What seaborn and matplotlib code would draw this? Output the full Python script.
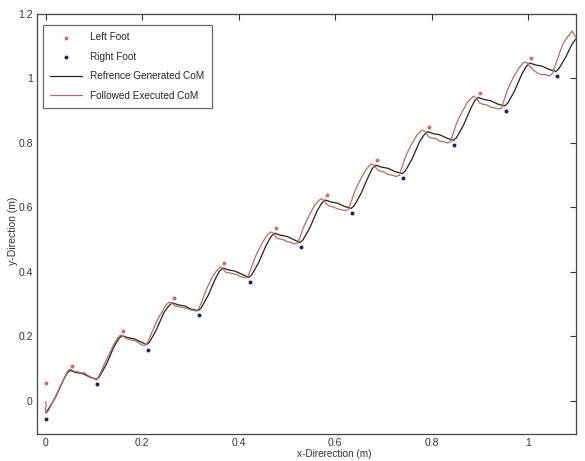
import matplotlib
matplotlib.use('Agg')
import matplotlib.pyplot as plt
import pandas as pd
import seaborn as sns

# footstep positions
left_x = [0.000, 0.054, 0.160, 0.265, 0.370, 0.477, 0.582, 0.687, 0.794, 0.899, 1.006]
left_y = [0.055, 0.109, 0.217, 0.319, 0.427, 0.535, 0.638, 0.746, 0.850, 0.956, 1.063]
right_x = [0.000, 0.107, 0.211, 0.318, 0.423, 0.529, 0.635, 0.741, 0.847, 0.953, 1.059]
right_y = [-0.057, 0.051, 0.159, 0.265, 0.368, 0.476, 0.582, 0.690, 0.793, 0.900, 1.007]

# reference CoM trajectory
ref_x = [0.000, 0.006, 0.020, 0.036, 0.044, 0.051, 0.063, 0.077, 0.091,
         0.105, 0.111, 0.125, 0.141, 0.151, 0.158, 0.170, 0.184, 0.198,
         0.209, 0.215, 0.229, 0.245, 0.255, 0.262, 0.274, 0.288, 0.302,
         0.316, 0.322, 0.336, 0.352, 0.360, 0.367, 0.379, 0.393, 0.407,
         0.421, 0.427, 0.441, 0.457, 0.467, 0.474, 0.486, 0.500, 0.514,
         0.527, 0.533, 0.547, 0.563, 0.572, 0.579, 0.591, 0.605, 0.619,
         0.633, 0.639, 0.653, 0.669, 0.677, 0.684, 0.696, 0.710, 0.724,
         0.739, 0.745, 0.759, 0.775, 0.784, 0.791, 0.803, 0.817, 0.831,
         0.845, 0.851, 0.865, 0.881, 0.889, 0.896, 0.908, 0.922, 0.936,
         0.951, 0.957, 0.971, 0.987, 0.996, 1.003, 1.015, 1.029, 1.043,
         1.057, 1.063, 1.077, 1.090, 1.098]
ref_y = [-0.037, -0.025, 0.010, 0.062, 0.085, 0.094, 0.088, 0.084, 0.074,
         0.066, 0.074, 0.111, 0.166, 0.192, 0.202, 0.196, 0.192, 0.182,
         0.174, 0.182, 0.219, 0.274, 0.294, 0.304, 0.298, 0.294, 0.284,
         0.280, 0.288, 0.325, 0.380, 0.402, 0.412, 0.406, 0.402, 0.392,
         0.383, 0.391, 0.428, 0.483, 0.510, 0.520, 0.514, 0.510, 0.500,
         0.491, 0.499, 0.536, 0.591, 0.613, 0.623, 0.617, 0.613, 0.603,
         0.597, 0.605, 0.642, 0.697, 0.721, 0.731, 0.725, 0.721, 0.711,
         0.705, 0.713, 0.750, 0.805, 0.825, 0.835, 0.829, 0.825, 0.815,
         0.808, 0.816, 0.853, 0.908, 0.931, 0.941, 0.935, 0.931, 0.921,
         0.915, 0.923, 0.960, 1.015, 1.038, 1.048, 1.042, 1.038, 1.028,
         1.022, 1.030, 1.065, 1.105, 1.122]

# executed CoM trajectory
exe_x = [0.000, 0.001, -0.001, 0.002, 0.006, 0.012, 0.020, 0.028, 0.036, 0.042,
         0.047, 0.053, 0.058, 0.066, 0.074, 0.080, 0.088, 0.096, 0.102,
         0.108, 0.114, 0.120, 0.126, 0.132, 0.138, 0.144, 0.150, 0.155, 0.161,
         0.168, 0.176, 0.184, 0.190, 0.196, 0.203,
         0.209, 0.214, 0.220, 0.226, 0.232, 0.238, 0.244, 0.250, 0.256, 0.262,
         0.268, 0.276, 0.284, 0.292, 0.300, 0.308, 0.313,
         0.317, 0.322, 0.328, 0.333, 0.339, 0.345, 0.351, 0.357, 0.362, 0.368,
         0.374, 0.381, 0.388, 0.396, 0.404, 0.412, 0.418,
         0.420, 0.425, 0.430, 0.436, 0.442, 0.448, 0.454, 0.460, 0.466, 0.472,
         0.478, 0.484, 0.492, 0.500, 0.507, 0.514, 0.522,
         0.524, 0.529, 0.534, 0.540, 0.546, 0.552, 0.558, 0.564, 0.570, 0.576,
         0.582, 0.589, 0.596, 0.604, 0.612, 0.620, 0.628,
         0.629, 0.634, 0.639, 0.645, 0.651, 0.657, 0.663, 0.669, 0.675, 0.681,
         0.688, 0.695, 0.702, 0.710, 0.718, 0.726, 0.734,
         0.734, 0.739, 0.744, 0.750, 0.756, 0.762, 0.768, 0.774, 0.780, 0.786,
         0.793, 0.800, 0.808, 0.816, 0.824, 0.832, 0.840,
         0.840, 0.845, 0.850, 0.856, 0.862, 0.868, 0.874, 0.880, 0.886, 0.892,
         0.899, 0.906, 0.914, 0.922, 0.930, 0.938, 0.946,
         0.946, 0.951, 0.956, 0.962, 0.968, 0.974, 0.980, 0.986, 0.992, 0.998,
         1.005, 1.012, 1.020, 1.028, 1.036, 1.044, 1.050,
         1.054, 1.060, 1.066, 1.072, 1.078, 1.085, 1.091, 1.098]
exe_y = [-0.002, -0.015, -0.025, -0.038, -0.030, -0.012, 0.012, 0.038, 0.062, 0.082,
         0.095, 0.098, 0.092, 0.090, 0.086, 0.087, 0.078, 0.072, 0.068,
         0.070, 0.088, 0.108, 0.128, 0.145, 0.165, 0.182, 0.196, 0.204, 0.200,
         0.192, 0.190, 0.186, 0.184, 0.176, 0.171,
         0.176, 0.190, 0.212, 0.232, 0.252, 0.268, 0.284, 0.298, 0.306, 0.303,
         0.294, 0.292, 0.289, 0.287, 0.282, 0.280, 0.278,
         0.286, 0.302, 0.325, 0.345, 0.365, 0.383, 0.397, 0.409, 0.415, 0.408,
         0.398, 0.397, 0.394, 0.392, 0.385, 0.383, 0.382,
         0.390, 0.408, 0.430, 0.452, 0.470, 0.488, 0.503, 0.515, 0.524, 0.520,
         0.506, 0.502, 0.500, 0.494, 0.492, 0.487, 0.489,
         0.496, 0.515, 0.537, 0.557, 0.575, 0.593, 0.608, 0.618, 0.627, 0.622,
         0.610, 0.604, 0.601, 0.596, 0.593, 0.590, 0.594,
         0.602, 0.622, 0.645, 0.665, 0.683, 0.700, 0.716, 0.727, 0.735, 0.730,
         0.716, 0.712, 0.709, 0.702, 0.700, 0.696, 0.700,
         0.708, 0.728, 0.752, 0.772, 0.790, 0.806, 0.822, 0.832, 0.840, 0.836,
         0.820, 0.815, 0.814, 0.806, 0.804, 0.800, 0.804,
         0.812, 0.832, 0.856, 0.876, 0.894, 0.910, 0.926, 0.936, 0.945, 0.940,
         0.924, 0.920, 0.918, 0.911, 0.909, 0.905, 0.909,
         0.918, 0.938, 0.962, 0.982, 1.000, 1.016, 1.032, 1.042, 1.051, 1.048,
         1.034, 1.024, 1.016, 1.012, 1.012, 1.008, 1.016,
         1.034, 1.058, 1.085, 1.108, 1.122, 1.136, 1.147, 1.128]

x_ticks = [0, 0.2, 0.4, 0.6, 0.8, 1]
y_ticks = [0, 0.2, 0.4, 0.6, 0.8, 1, 1.2]

sns.set_theme(style="white")
plt.rcParams['font.family'] = ['Liberation Sans', 'DejaVu Sans']

left_df = pd.DataFrame({"x": left_x, "y": left_y})
right_df = pd.DataFrame({"x": right_x, "y": right_y})
ref_df = pd.DataFrame({"x": ref_x, "y": ref_y})
exe_df = pd.DataFrame({"x": exe_x, "y": exe_y})

fig = plt.figure(figsize=(5.85, 4.61), dpi=100)
ax = fig.add_axes([0.0632, 0.0586, 0.9208, 0.911])

sns.scatterplot(data=left_df, x="x", y="y", ax=ax, color="#e06666", s=8,
                linewidth=0, label="Left Foot", zorder=3)
sns.scatterplot(data=right_df, x="x", y="y", ax=ax, color="#1c1c78", s=8,
                linewidth=0, label="Right Foot", zorder=3)
sns.lineplot(data=ref_df, x="x", y="y", ax=ax, sort=False, estimator=None,
             color="#222222", linewidth=0.9, label="Refrence Generated CoM")
sns.lineplot(data=exe_df, x="x", y="y", ax=ax, sort=False, estimator=None,
             color="#b86c64", linewidth=0.9, label="Followed Executed CoM")

ax.set_xlim(-0.018, 1.098)
ax.set_ylim(-0.103, 1.2)
ax.set_xticks(x_ticks)
ax.set_xticklabels(["0", "0.2", "0.4", "0.6", "0.8", "1"])
ax.set_yticks(y_ticks)
ax.set_yticklabels(["0", "0.2", "0.4", "0.6", "0.8", "1", "1.2"])
ax.tick_params(direction="in", length=4, width=0.8, top=True, right=True,
               labelsize=7.5, colors="#333333", pad=3)
for sp in ax.spines.values():
    sp.set_color("#444444")
    sp.set_linewidth(0.9)

ax.set_xlabel("x-Direrection (m)", fontsize=7.2, color="#333333")
ax.set_ylabel("y-Direction (m)", fontsize=7.5, color="#333333")
ax.xaxis.set_label_coords(0.551, -0.035)
ax.yaxis.set_label_coords(-0.035, 0.483)

leg = ax.legend(loc="upper left", bbox_to_anchor=(0.011, 0.974), fontsize=7.2,
                frameon=True, fancybox=False, handlelength=3.2,
                borderaxespad=0, borderpad=0.75, labelspacing=0.95,
                handletextpad=0.75)
leg.get_frame().set_edgecolor("#444444")
leg.get_frame().set_linewidth(0.9)

fig.savefig("out.png", dpi=100)
